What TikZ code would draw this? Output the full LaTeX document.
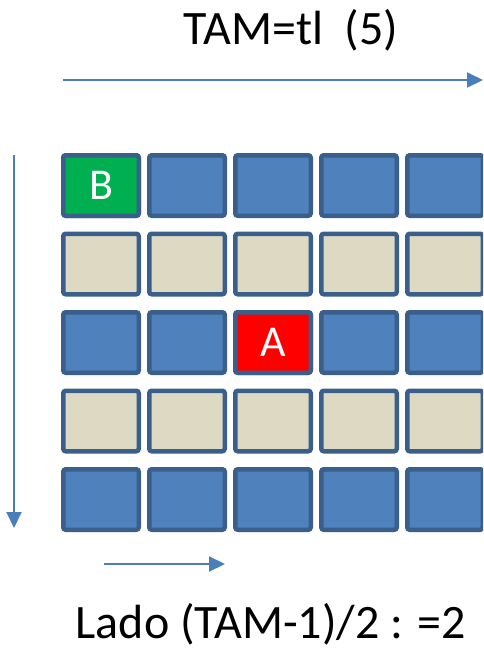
\documentclass[tikz,border=0pt]{standalone}
\usepackage{fontspec}
\setmainfont{Carlito}
\usetikzlibrary{arrows.meta}
\definecolor{cellblue}{HTML}{4F81BD}
\definecolor{cellbeige}{HTML}{DDD9C3}
\definecolor{cellline}{HTML}{3A5F8B}
\definecolor{cellgreen}{HTML}{00B050}
\definecolor{cellred}{HTML}{FF0000}
\definecolor{arrowblue}{HTML}{4A7EBB}
\tikzset{
  cell/.style={draw=cellline, line width=4.5pt, rounded corners=2.5pt,
    minimum width=75.5pt, minimum height=60.5pt, inner sep=0pt,
    text=white, font=\fontsize{44}{44}\selectfont},
  bluecell/.style={cell, fill=cellblue},
  beigecell/.style={cell, fill=cellbeige},
  dirarrow/.style={draw=arrowblue, line width=2pt,
    -{Triangle[length=16pt, width=15pt]}},
  bigtext/.style={font=\fontsize{48}{48}\selectfont, anchor=base, inner sep=0pt}
}
\begin{document}
\begin{tikzpicture}[x=1pt, y=-1pt]
\useasboundingbox (0,0) rectangle (483,649);
\clip (0,0) rectangle (483,649);
% cells
\foreach \c/\x in {1/101,2/187,3/273,4/359,5/445}{
  \foreach \r/\y/\s in {1/185.5/bluecell,2/264/beigecell,3/342.5/bluecell,4/421/beigecell,5/499.5/bluecell}{
    \node[\s] (c-\r-\c) at (\x,\y) {};
  }
}
\node[cell, fill=cellgreen] (cB) at (c-1-1) {B};
\node[cell, fill=cellred] (cA) at (c-3-3) {A};
% texts
\node[bigtext] (top) at (291,44) {TAM=tl\ \ (5)};
\node[bigtext] (bottom) at (271,638) {Lado (TAM-1)/2 : =2};
% arrows
\coordinate (t1) at (63,80);
\coordinate (t2) at (483,80);
\coordinate (l1) at (14,155);
\coordinate (l2) at (14,528);
\coordinate (b1) at (104,564);
\coordinate (b2) at (225,564);
\draw[dirarrow] (t1) -- (t2);
\draw[dirarrow] (l1) -- (l2);
\draw[dirarrow] (b1) -- (b2);
\end{tikzpicture}
\end{document}
